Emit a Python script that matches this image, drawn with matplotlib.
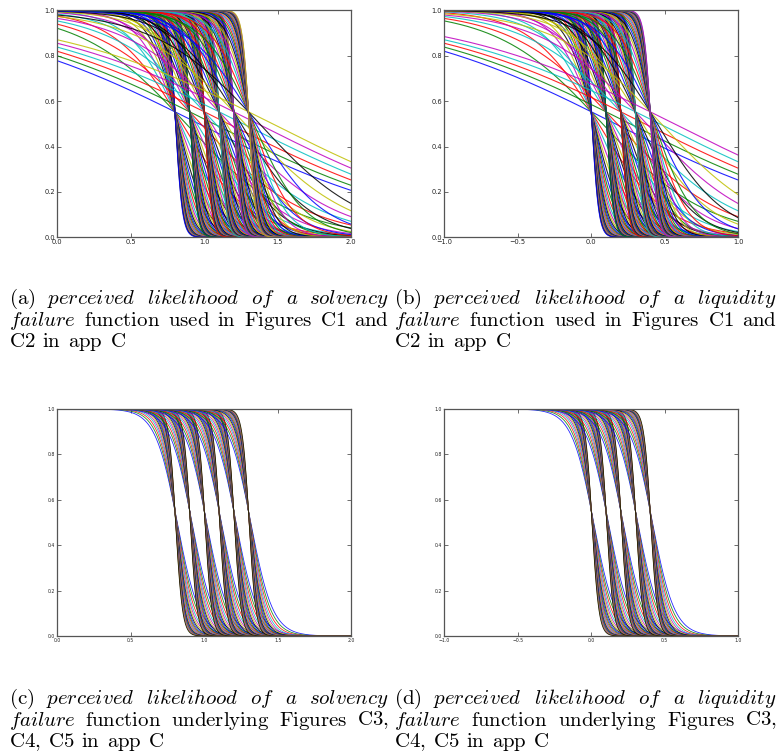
import numpy as np
import matplotlib.pyplot as plt
from matplotlib.transforms import IdentityTransform

plt.rcParams['mathtext.fontset'] = 'cm'

# failure-likelihood curves: centres where each family crosses, and steepness values
centers_solv = [0.8, 0.9, 1.0, 1.1, 1.2, 1.3]
centers_liq = [0.0, 0.1, 0.2, 0.3, 0.4]
steep_all = [1.3, 2.8, 4.3, 5.8, 7.3, 8.8, 10.3, 11.8, 13.3, 14.8,
             16.3, 17.8, 19.3, 20.8, 22.3, 23.8, 25.3, 26.8, 28.3, 29.8,
             31.3, 32.8, 34.3, 35.8, 37.3, 38.8, 40.3, 41.8, 43.3]
steep_narrow = steep_all[8:]
cross_level = 0.553

xlim_solv = (0.0, 2.0)
xlim_liq = (-1.0, 1.0)
xticks_solv = [0.0, 0.5, 1.0, 1.5, 2.0]
xticks_liq = [-1.0, -0.5, 0.0, 0.5, 1.0]
yticks = [0.0, 0.2, 0.4, 0.6, 0.8, 1.0]

captions = {
    'a': [["(a)", "*perceived", "*likelihood", "*of", "*a", "*solvency"],
          ["*failure", "function", "used", "in", "Figures", "C1", "and"],
          ["C2", "in", "app", "C"]],
    'b': [["(b)", "*perceived", "*likelihood", "*of", "*a", "*liquidity"],
          ["*failure", "function", "used", "in", "Figures", "C1", "and"],
          ["C2", "in", "app", "C"]],
    'c': [["(c)", "*perceived", "*likelihood", "*of", "*a", "*solvency"],
          ["*failure", "function", "underlying", "Figures", "C3,"],
          ["C4,", "C5", "in", "app", "C"]],
    'd': [["(d)", "*perceived", "*likelihood", "*of", "*a", "*liquidity"],
          ["*failure", "function", "underlying", "Figures", "C3,"],
          ["C4,", "C5", "in", "app", "C"]],
}

classic = ['b', 'g', 'r', 'c', 'm', 'y', 'k']
offset = np.log(cross_level / (1 - cross_level))

W, H = 778, 754
fig = plt.figure(figsize=(W / 100, H / 100), dpi=100)


def panel(px_left, px_top, centers, steeps, xlim, xticks, lw, tick_fs):
    ax = fig.add_axes([px_left / W, 1 - (px_top + 227) / H, 294 / W, 227 / H])
    x = np.linspace(xlim[0], xlim[1], 600)
    n = 0
    for c in centers:
        for k in steeps:
            y = 1.0 / (1.0 + np.exp(k * (x - c) - offset))
            ax.plot(x, y, color=classic[n % 7], lw=lw, alpha=0.85)
            n += 1
    ax.set_xlim(*xlim)
    ax.set_ylim(0, 1)
    ax.set_xticks(xticks)
    ax.set_yticks(yticks)
    ax.tick_params(direction='in', top=True, right=True, length=3,
                   width=0.6, color='#555555', labelsize=tick_fs, pad=1.5,
                   labelcolor='#222222')
    for s in ax.spines.values():
        s.set_color('#555555')
        s.set_linewidth(0.9)
    return ax


panel(57.3, 10.3, centers_solv, steep_all, xlim_solv, xticks_solv, 0.8, 4.8)
panel(444.3, 10.3, centers_liq, steep_all, xlim_liq, xticks_liq, 0.8, 4.8)
panel(57.3, 409.0, centers_solv, steep_narrow, xlim_solv, xticks_solv, 0.6, 3.3)
panel(444.3, 409.0, centers_liq, steep_narrow, xlim_liq, xticks_liq, 0.6, 3.3)

FS = 15.0
LEAD = 21.5
renderer = fig.canvas.get_renderer()


def word_text(w):
    if w.startswith('*'):
        s = r"$\mathit{" + w[1:] + "}$"
    else:
        s = r"$\mathrm{" + w + "}$"
    return fig.text(0, 0, s, fontsize=FS, transform=IdentityTransform(),
                    va='baseline', ha='left', color='black')


def put_line(words, x0, x1, base, justify):
    texts = [word_text(w) for w in words]
    widths = [t.get_window_extent(renderer).width for t in texts]
    if justify:
        gap = (x1 - x0 - sum(widths)) / (len(words) - 1)
    else:
        gap = 0.33 * FS * 100 / 72
    xp = x0
    for t, w in zip(texts, widths):
        t.set_position((xp, H - base))
        xp += w + gap


def caption(key, x0, x1, base):
    lines = captions[key]
    put_line(lines[0], x0, x1, base, True)
    put_line(lines[1], x0, x1, base + LEAD, True)
    put_line(lines[2], x0, x1, base + 2 * LEAD, False)


caption('a', 9, 389, 304)
caption('b', 394, 777, 304)
caption('c', 9, 389, 704)
caption('d', 394, 777, 704)

fig.savefig('out.png', dpi=100)
